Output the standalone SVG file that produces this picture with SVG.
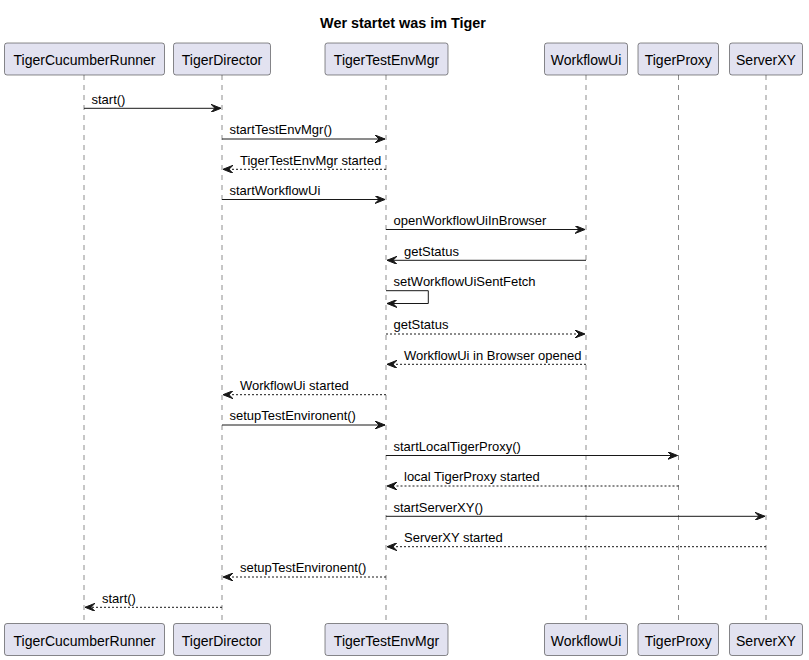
<svg xmlns="http://www.w3.org/2000/svg" width="809" height="660" viewBox="0 0 809 660">
<defs>
<style>
.box{fill:#E2E2F0;stroke:#181818;stroke-width:0.5}
.pt{font-family:"Liberation Sans",Arial,sans-serif;font-size:14px;fill:#000;text-anchor:middle}
.life{stroke:#181818;stroke-width:0.5;stroke-dasharray:5,5;fill:none}
.msg{stroke:#181818;stroke-width:1;fill:none}
.ret{stroke:#181818;stroke-width:1;fill:none;stroke-dasharray:2,2}
.mt{font-family:"Liberation Sans",Arial,sans-serif;font-size:13px;fill:#000}
.title{font-family:"Liberation Sans",Arial,sans-serif;font-size:14.4px;font-weight:bold;fill:#000;text-anchor:middle}
</style>
<marker id="ah" viewBox="-10 -4 10 8" refX="0" refY="0" markerWidth="10" markerHeight="8" markerUnits="userSpaceOnUse" orient="auto">
<path d="M-10,-4 L0,0 L-10,4 L-6,0 Z" fill="#181818" stroke="#181818" stroke-width="1" stroke-dasharray="none"/>
</marker>
</defs>
<rect width="809" height="660" fill="#FFFFFF"/>
<text class="title" x="403" y="28">Wer startet was im Tiger</text>

<g id="lifelines">
<line class="life" x1="84" y1="75" x2="84" y2="624"/>
<line class="life" x1="222" y1="75" x2="222" y2="624"/>
<line class="life" x1="386" y1="75" x2="386" y2="624"/>
<line class="life" x1="586" y1="75" x2="586" y2="624"/>
<line class="life" x1="678.5" y1="75" x2="678.5" y2="624"/>
<line class="life" x1="766" y1="75" x2="766" y2="624"/>
</g>

<g id="TigerCucumberRunner">
<rect class="box" x="4.5" y="43" width="160" height="32" rx="2.5"/>
<text class="pt" x="84.5" y="65">TigerCucumberRunner</text>
<rect class="box" x="4.5" y="623.5" width="160" height="32" rx="2.5"/>
<text class="pt" x="84.5" y="645.5">TigerCucumberRunner</text>
</g>
<g id="TigerDirector">
<rect class="box" x="173.5" y="43" width="97" height="32" rx="2.5"/>
<text class="pt" x="222" y="65">TigerDirector</text>
<rect class="box" x="173.5" y="623.5" width="97" height="32" rx="2.5"/>
<text class="pt" x="222" y="645.5">TigerDirector</text>
</g>
<g id="TigerTestEnvMgr">
<rect class="box" x="325" y="43" width="123" height="32" rx="2.5"/>
<text class="pt" x="386.5" y="65">TigerTestEnvMgr</text>
<rect class="box" x="325" y="623.5" width="123" height="32" rx="2.5"/>
<text class="pt" x="386.5" y="645.5">TigerTestEnvMgr</text>
</g>
<g id="WorkflowUi">
<rect class="box" x="544.5" y="43" width="83" height="32" rx="2.5"/>
<text class="pt" x="586" y="65">WorkflowUi</text>
<rect class="box" x="544.5" y="623.5" width="83" height="32" rx="2.5"/>
<text class="pt" x="586" y="645.5">WorkflowUi</text>
</g>
<g id="TigerProxy">
<rect class="box" x="638" y="43" width="80.5" height="32" rx="2.5"/>
<text class="pt" x="678.3" y="65">TigerProxy</text>
<rect class="box" x="638" y="623.5" width="80.5" height="32" rx="2.5"/>
<text class="pt" x="678.3" y="645.5">TigerProxy</text>
</g>
<g id="ServerXY">
<rect class="box" x="729.5" y="43" width="73" height="32" rx="2.5"/>
<text class="pt" x="766" y="65">ServerXY</text>
<rect class="box" x="729.5" y="623.5" width="73" height="32" rx="2.5"/>
<text class="pt" x="766" y="645.5">ServerXY</text>
</g>

<g id="connectors">
<line class="msg" x1="84" y1="108.3" x2="221" y2="108.3" marker-end="url(#ah)"/>
<text class="mt" x="91.5" y="103.5">start()</text>

<line class="msg" x1="222" y1="139" x2="385" y2="139" marker-end="url(#ah)"/>
<text class="mt" x="229.5" y="134">startTestEnvMgr()</text>

<line class="ret" x1="386" y1="169.3" x2="223" y2="169.3" marker-end="url(#ah)"/>
<text class="mt" x="240" y="164.5">TigerTestEnvMgr started</text>

<line class="msg" x1="222" y1="199.5" x2="385" y2="199.5" marker-end="url(#ah)"/>
<text class="mt" x="229.5" y="194.5">startWorkflowUi</text>

<line class="msg" x1="386" y1="229.5" x2="585" y2="229.5" marker-end="url(#ah)"/>
<text class="mt" x="393.5" y="224.5">openWorkflowUiInBrowser</text>

<line class="msg" x1="586" y1="260.3" x2="387" y2="260.3" marker-end="url(#ah)"/>
<text class="mt" x="404" y="255.5">getStatus</text>

<path class="msg" d="M386,290.7 H428.3 V303.5 H387" marker-end="url(#ah)"/>
<text class="mt" x="393.5" y="285.5">setWorkflowUiSentFetch</text>

<line class="ret" x1="386" y1="334" x2="585" y2="334" marker-end="url(#ah)"/>
<text class="mt" x="393.5" y="329">getStatus</text>

<line class="ret" x1="586" y1="364.3" x2="387" y2="364.3" marker-end="url(#ah)"/>
<text class="mt" x="404" y="359.5">WorkflowUi in Browser opened</text>

<line class="ret" x1="386" y1="394.7" x2="223" y2="394.7" marker-end="url(#ah)"/>
<text class="mt" x="240" y="389.5">WorkflowUi started</text>

<line class="msg" x1="222" y1="425" x2="385" y2="425" marker-end="url(#ah)"/>
<text class="mt" x="229.5" y="420">setupTestEnvironent()</text>

<line class="msg" x1="386" y1="455.5" x2="677.5" y2="455.5" marker-end="url(#ah)"/>
<text class="mt" x="393.5" y="450.5">startLocalTigerProxy()</text>

<line class="ret" x1="678.5" y1="486" x2="387" y2="486" marker-end="url(#ah)"/>
<text class="mt" x="404" y="481">local TigerProxy started</text>

<line class="msg" x1="386" y1="516.3" x2="765" y2="516.3" marker-end="url(#ah)"/>
<text class="mt" x="393.5" y="511.5">startServerXY()</text>

<line class="ret" x1="766" y1="546.7" x2="387" y2="546.7" marker-end="url(#ah)"/>
<text class="mt" x="404" y="541.5">ServerXY started</text>

<line class="ret" x1="386" y1="577" x2="223" y2="577" marker-end="url(#ah)"/>
<text class="mt" x="240" y="572">setupTestEnvironent()</text>

<line class="ret" x1="222" y1="607.3" x2="85" y2="607.3" marker-end="url(#ah)"/>
<text class="mt" x="102" y="602.5">start()</text>
</g>
</svg>
